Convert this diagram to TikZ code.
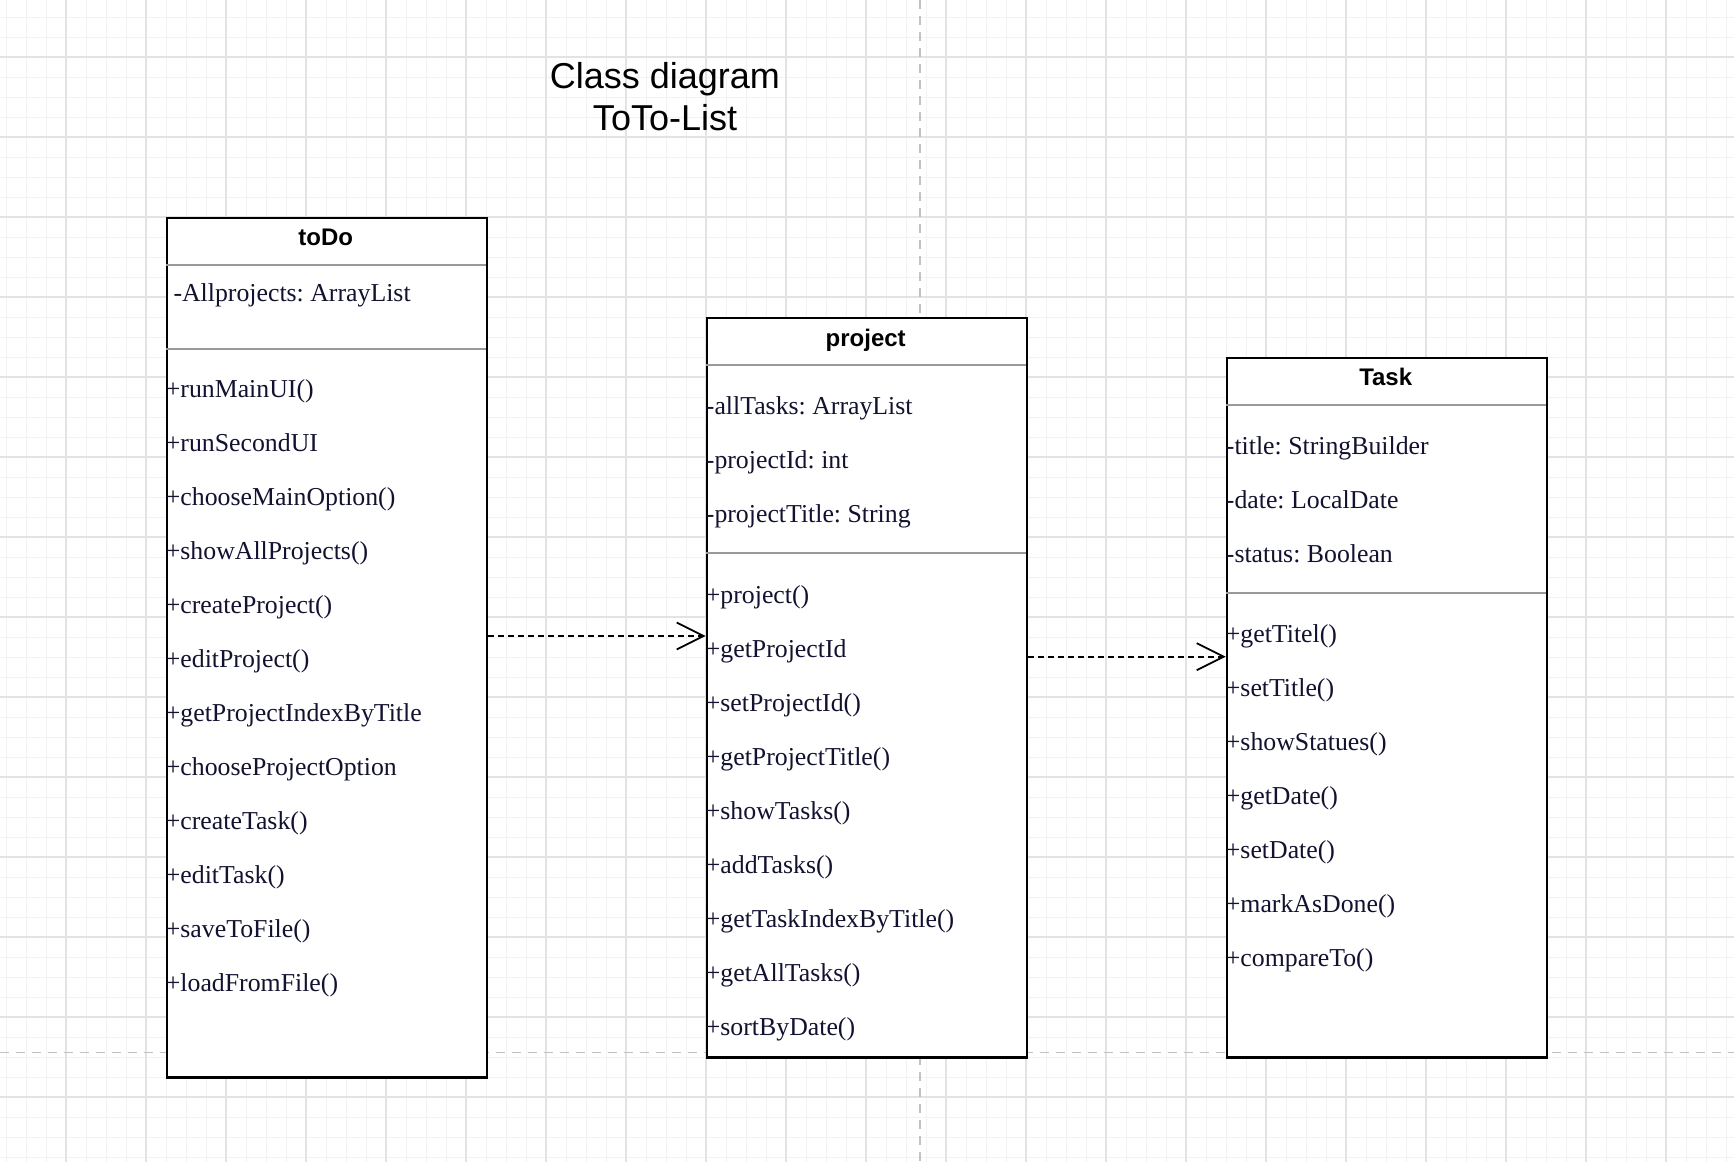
\documentclass[tikz,border=0pt]{standalone}
\usepackage{fontspec}
\setmainfont{Liberation Serif}
\newfontfamily\sansf{Liberation Sans}
\usetikzlibrary{arrows.meta}
\definecolor{itemcol}{HTML}{121230}
\definecolor{minorcol}{HTML}{F2F2F2}
\definecolor{majorcol}{HTML}{E3E3E3}
\definecolor{pagecol}{HTML}{C2C2C2}
\definecolor{sepcol}{HTML}{999999}
\tikzset{
  minorline/.style={draw=minorcol, line width=1pt},
  majorline/.style={draw=majorcol, line width=1.3pt},
  pageline/.style={draw=pagecol, line width=1.5pt, dash pattern=on 9pt off 7pt},
  classbox/.style={draw=black, line width=2.5pt, fill=white, rectangle, inner sep=0pt, minimum width=320pt, anchor=north west},
  sepline/.style={draw=sepcol, line width=1.6pt},
  headtext/.style={font=\sansf\bfseries\fontsize{24}{28}\selectfont, anchor=base, inner sep=0pt},
  itemtext/.style={font=\frenchspacing\fontsize{25.8}{30}\selectfont, text=itemcol, anchor=base west, inner sep=0pt},
  titletext/.style={font=\sansf\fontsize{36}{42}\selectfont, anchor=base, inner sep=0pt},
  dep/.style={draw=black, line width=1.8pt, dash pattern=on 6pt off 4pt, -{Straight Barb[length=27pt, width=27pt, line width=1.8pt]}},
}
\begin{document}
\begin{tikzpicture}[x=1pt, y=-1pt]
\useasboundingbox (0,0) rectangle (1734,1162);
\fill[white] (0,0) rectangle (1734,1162);
% grid
\foreach \x in {6,26,...,1734} \draw[minorline] (\x,0) -- (\x,1162);
\foreach \y in {17,37,...,1162} \draw[minorline] (0,\y) -- (1734,\y);
\foreach \x in {66,146,...,1734} \draw[majorline] (\x,0) -- (\x,1162);
\foreach \y in {57,137,...,1162} \draw[majorline] (0,\y) -- (1734,\y);
% page breaks
\draw[pageline] (920,0) -- (920,1162);
\draw[pageline] (0,1052.7) -- (1734,1052.7);
% title
\node[titletext] (title1) at (665,88.3) {Class diagram};
\node[titletext] (title2) at (665,130) {ToTo-List};
% toDo
\node[classbox, minimum height=859.3pt] (todo) at (165.7,216.7) {};
\draw[sepline] (165.7,264.7) -- (485.7,264.7);
\draw[sepline] (165.7,349) -- (485.7,349);
\node[headtext] (todo-h) at (325.7,245.5) {toDo};
\node[itemtext] (todo-a1) at (173.3,301.7) {-Allprojects: ArrayList};
\foreach \t [count=\i from 0] in {+runMainUI(),+runSecondUI,+chooseMainOption(),+showAllProjects(),+createProject(),+editProject(),+getProjectIndexByTitle,+chooseProjectOption,+createTask(),+editTask(),+saveToFile(),+loadFromFile()}
  \node[itemtext] (todo-m\i) at (165.7,397.7+54*\i) {\t};
% project
\node[classbox, minimum height=739.3pt] (project) at (705.7,316.7) {};
\draw[sepline] (705.7,364.7) -- (1025.7,364.7);
\draw[sepline] (705.7,552.7) -- (1025.7,552.7);
\node[headtext] (project-h) at (865.7,346) {project};
\foreach \t [count=\i from 0] in {-allTasks: ArrayList,-projectId: int,-projectTitle: String}
  \node[itemtext] (project-a\i) at (705.7,414.3+54*\i) {\t};
\foreach \t [count=\i from 0] in {+project(),+getProjectId,+setProjectId(),+getProjectTitle(),+showTasks(),+addTasks(),+getTaskIndexByTitle(),+getAllTasks(),+sortByDate()}
  \node[itemtext] (project-m\i) at (705.7,603.5+54*\i) {\t};
% Task
\node[classbox, minimum height=699.3pt] (task) at (1225.7,356.7) {};
\draw[sepline] (1225.7,404.7) -- (1545.7,404.7);
\draw[sepline] (1225.7,592.8) -- (1545.7,592.8);
\node[headtext] (task-h) at (1385.7,385.7) {Task};
\foreach \t [count=\i from 0] in {-title: StringBuilder,-date: LocalDate,-status: Boolean}
  \node[itemtext] (task-a\i) at (1225.7,454.3+54*\i) {\t};
\foreach \t [count=\i from 0] in {+getTitel(),+setTitle(),+showStatues(),+getDate(),+setDate(),+markAsDone(),+compareTo()}
  \node[itemtext] (task-m\i) at (1225.7,642.2+54*\i) {\t};
% dependencies
\coordinate (y1) at (0,636);
\coordinate (y2) at (0,656.7);
\draw[dep] (todo.east |- y1) -- (project.west |- y1);
\draw[dep] (project.east |- y2) -- (task.west |- y2);
\end{tikzpicture}
\end{document}
